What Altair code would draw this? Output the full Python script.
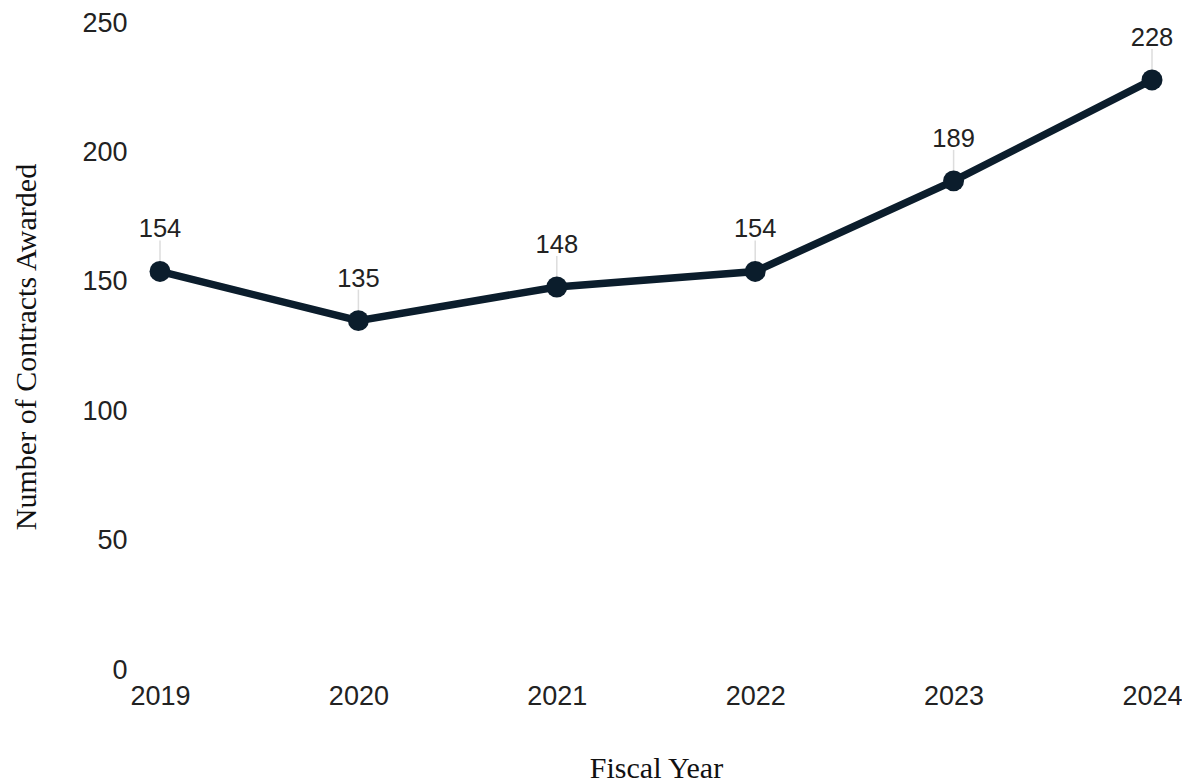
import altair as alt
import pandas as pd

years = ["2019", "2020", "2021", "2022", "2023", "2024"]
contracts = [154, 135, 148, 154, 189, 228]
y_ticks = [0, 50, 100, 150, 200, 250]

df = pd.DataFrame({"year": years, "value": contracts})

W, H = 992, 647
LINE = "#0b1d2c"

x = alt.X("year:O", title="Fiscal Year",
          scale=alt.Scale(type="point", padding=0),
          axis=alt.Axis(labelAngle=0, labelFont="Liberation Sans", labelFontSize=27,
                        labelColor="#222222", labelPadding=13, ticks=False, domain=False,
                        titleFont="Liberation Serif", titleFontSize=30, titleFontWeight="normal",
                        titleColor="#111111", titleX=W / 2, titleY=107,
                        titleBaseline="alphabetic"))
y = alt.Y("value:Q", title="Number of Contracts Awarded",
          scale=alt.Scale(domain=[0, 250], nice=False, zero=True),
          axis=alt.Axis(values=y_ticks, grid=False, ticks=False, domain=False,
                        labelFont="Liberation Sans", labelFontSize=27, labelColor="#222222",
                        labelPadding=33, labelBaseline="middle",
                        titleFont="Liberation Serif", titleFontSize=30, titleFontWeight="normal",
                        titleColor="#111111", titleX=-134, titleY=H / 2,
                        titleBaseline="middle", titleAngle=270))

base = alt.Chart(df).encode(x=x, y=y)

leader = base.mark_rule(color="#dddddd", strokeWidth=1.5, yOffset=-31, y2Offset=0).encode(
    y2=alt.Y2("value:Q"))
line = base.mark_line(color=LINE, strokeWidth=7.5)
pts = base.mark_circle(color=LINE, opacity=1, size=440)
labels = base.mark_text(dy=-34, baseline="alphabetic", font="Liberation Sans",
                        fontSize=25.5, color="#222222").encode(text="value:Q")

chart = alt.layer(leader, line, pts, labels).properties(
    width=W, height=H,
    autosize=alt.AutoSizeParams(type="none"),
    padding={"left": 152, "top": 15, "right": 30, "bottom": 112},
).configure_view(stroke=None)

chart.save("out.html", embed_options={"renderer": "svg", "actions": False})
